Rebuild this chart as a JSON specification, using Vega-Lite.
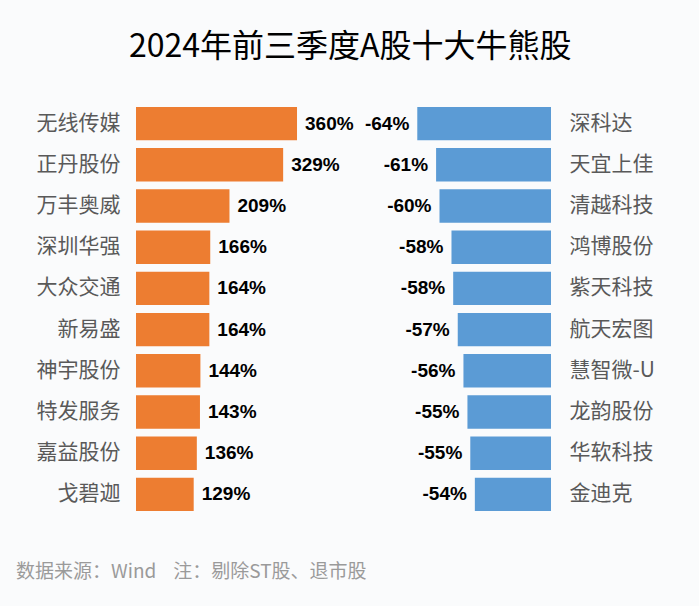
{
  "$schema": "https://vega.github.io/schema/vega-lite/v6.json",
  "background": "#fafbfc",
  "padding": {"left": 16, "top": 31, "right": 44, "bottom": 25},
  "bounds": "flush",
  "spacing": 4,
  "title": {
    "text": "2024年前三季度A股十大牛熊股",
    "font": "Noto Sans CJK SC",
    "fontSize": 32,
    "fontWeight": "normal",
    "color": "#000000",
    "anchor": "middle",
    "offset": 39,
    "dx": 15
  },
  "datasets": {
    "bull": [
      {"name": "无线传媒", "value": 360, "label": "360%"},
      {"name": "正丹股份", "value": 329, "label": "329%"},
      {"name": "万丰奥威", "value": 209, "label": "209%"},
      {"name": "深圳华强", "value": 166, "label": "166%"},
      {"name": "大众交通", "value": 164, "label": "164%"},
      {"name": "新易盛", "value": 164, "label": "164%"},
      {"name": "神宇股份", "value": 144, "label": "144%"},
      {"name": "特发服务", "value": 143, "label": "143%"},
      {"name": "嘉益股份", "value": 136, "label": "136%"},
      {"name": "戈碧迦", "value": 129, "label": "129%"}
    ],
    "bear": [
      {"name": "深科达", "value": -64.1, "label": "-64%"},
      {"name": "天宜上佳", "value": -60.8, "label": "-61%"},
      {"name": "清越科技", "value": -60.2, "label": "-60%"},
      {"name": "鸿博股份", "value": -58.1, "label": "-58%"},
      {"name": "紫天科技", "value": -57.8, "label": "-58%"},
      {"name": "航天宏图", "value": -57.0, "label": "-57%"},
      {"name": "慧智微-U", "value": -56.0, "label": "-56%"},
      {"name": "龙韵股份", "value": -55.3, "label": "-55%"},
      {"name": "华软科技", "value": -54.8, "label": "-55%"},
      {"name": "金迪克", "value": -54.0, "label": "-54%"}
    ]
  },
  "config": {
    "view": {"stroke": null},
    "axis": {
      "domain": false,
      "ticks": false,
      "grid": false,
      "labelFont": "Noto Sans CJK SC",
      "labelFontSize": 21,
      "labelColor": "#595959",
      "labelPadding": 16
    },
    "scale": {"bandPaddingInner": 0.19, "bandPaddingOuter": 0.095}
  },
  "hconcat": [
    {
      "data": {"name": "bull"},
      "width": 229,
      "height": 412,
      "title": {
        "text": "数据来源：Wind\u00a0\u00a0\u00a0\u00a0注：剔除ST股、退市股",
        "orient": "bottom",
        "anchor": "start",
        "frame": "bounds",
        "font": "Noto Sans CJK SC",
        "fontSize": 19,
        "fontWeight": "normal",
        "color": "#9a9a9a",
        "baseline": "top",
        "offset": 48,
        "dx": -20
      },
      "encoding": {
        "y": {"field": "name", "type": "nominal", "sort": null, "axis": {"title": null, "orient": "left"}},
        "x": {"field": "value", "type": "quantitative", "scale": {"domain": [0, 512]}, "axis": null}
      },
      "layer": [
        {"mark": {"type": "bar", "color": "#ed7d31"}},
        {
          "mark": {"type": "text", "align": "left", "baseline": "middle", "dx": 8, "font": "Liberation Sans", "fontSize": 19, "fontWeight": "bold", "color": "#000000"},
          "encoding": {"text": {"field": "label"}}
        }
      ]
    },
    {
      "data": {"name": "bear"},
      "width": 182,
      "height": 412,
      "encoding": {
        "y": {"field": "name", "type": "nominal", "sort": null, "axis": {"title": null, "orient": "right", "labelPadding": 18}},
        "x": {"field": "value", "type": "quantitative", "scale": {"domain": [-72.57, -40.64], "zero": false}, "axis": null}
      },
      "layer": [
        {"mark": {"type": "bar", "color": "#5b9bd5", "clip": true}},
        {
          "mark": {"type": "text", "align": "right", "baseline": "middle", "dx": -8, "font": "Liberation Sans", "fontSize": 19, "fontWeight": "bold", "color": "#000000"},
          "encoding": {"text": {"field": "label"}}
        }
      ]
    }
  ]
}
